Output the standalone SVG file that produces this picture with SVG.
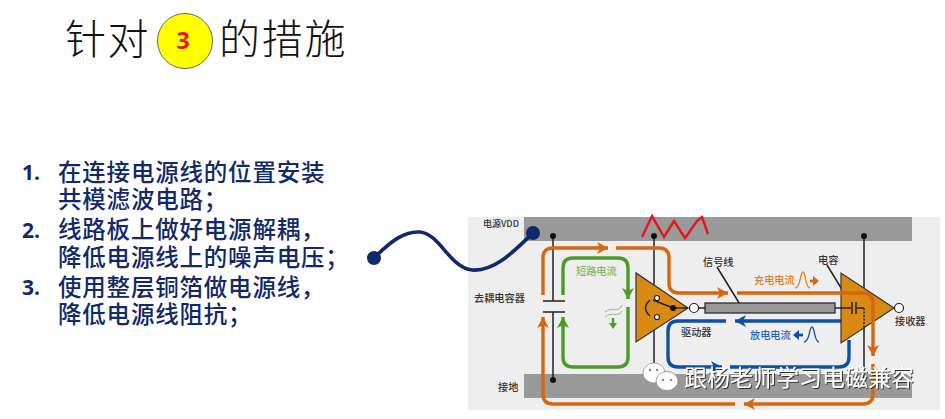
<svg xmlns="http://www.w3.org/2000/svg" width="945" height="419" viewBox="0 0 945 419">
<style>
text{font-family:"Noto Sans CJK SC","Liberation Sans",sans-serif}
.title{font-size:41px;font-weight:300;fill:#111}
.body{font-size:23.5px;font-weight:500;fill:#10296b;letter-spacing:.8px}
.num{font-family:"Open Sans","Liberation Sans",sans-serif;font-size:21px;font-weight:700;fill:#10296b}
.lab{font-size:10.2px;fill:#333;font-weight:500}
.w{fill:none;stroke-width:3.4;stroke-linecap:butt;stroke-linejoin:round}
.o{stroke:#d9650c}.g{stroke:#4c9a28}.b{stroke:#0c4fa8}
.k{stroke:#222;stroke-width:1.5;fill:none}
.tri{fill:#d98a14;stroke:#333;stroke-width:1.2}
.bar{fill:#999}
.pin{fill:#fff;stroke:#222;stroke-width:1.2}
.wm{font-size:23px;fill:#fff;filter:url(#sh)}
</style>
<defs>
<filter id="sh" x="-10%" y="-20%" width="120%" height="150%"><feDropShadow dx="1" dy="1" stdDeviation=".6" flood-color="#333"/></filter>
<marker id="ao" markerUnits="userSpaceOnUse" markerWidth="14" markerHeight="14" refX="12" refY="7" orient="auto"><path d="M1,1 L12,7 L1,13 L4,7z" fill="#d9650c"/></marker>
<marker id="ag" markerUnits="userSpaceOnUse" markerWidth="14" markerHeight="14" refX="12" refY="7" orient="auto"><path d="M1,1 L12,7 L1,13 L4,7z" fill="#4c9a28"/></marker>
<marker id="ab" markerUnits="userSpaceOnUse" markerWidth="14" markerHeight="14" refX="12" refY="7" orient="auto"><path d="M1,1 L12,7 L1,13 L4,7z" fill="#0c4fa8"/></marker>
</defs>
<rect width="945" height="419" fill="#fff"/>

<g id="title">
<text class="title" x="65" y="54" letter-spacing="1.5">针对</text>
<circle cx="185" cy="41" r="27.5" fill="#ffff00" stroke="#666" stroke-width="1"/>
<text x="183" y="49" text-anchor="middle" font-size="23" font-weight="700" fill="#f01010" style="font-family:'Open Sans','Liberation Sans',sans-serif">3</text>
<text class="title" x="219" y="54" letter-spacing="1.8">的措施</text>
</g>

<g id="list">
<text class="num" x="22" y="180">1.</text>
<text class="body"><tspan x="58" y="181">在连接电源线的位置安装</tspan><tspan x="58" y="208">共模滤波电路；</tspan></text>
<text class="num" x="22" y="238">2.</text>
<text class="body"><tspan x="58" y="238">线路板上做好电源解耦，</tspan><tspan x="58" y="266">降低电源线上的噪声电压；</tspan></text>
<text class="num" x="22" y="295">3.</text>
<text class="body"><tspan x="58" y="296">使用整层铜箔做电源线，</tspan><tspan x="58" y="323">降低电源线阻抗；</tspan></text>
</g>

<g id="circuit-panel">
<rect x="468" y="217" width="472" height="193" fill="#eeeeee"/>
<rect class="bar" x="524" y="217" width="388" height="24"/>
<rect class="bar" x="524" y="374" width="388" height="24"/>
<text class="lab" x="483" y="227" style="font-size:9px">电源VDD</text>
<text class="lab" x="474" y="302">去耦电容器</text>
<text class="lab" x="498" y="391">接地</text>
</g>

<g id="connectors">
<path class="k" d="M553,236V301M553,312V380M654,236V380M864,236V380"/>
<path d="M543,301H565M543,312H565" stroke="#222" stroke-width="1.5" fill="none"/>
<path class="k" d="M717,267L741,306M827,265L846,296"/>
<path class="w o" marker-end="url(#ao)" d="M543,295V258Q543,248 553,248H608"/>
<path class="w o" marker-end="url(#ao)" d="M616,248H659Q669,248 669,258V283Q669,293 679,293H728"/>
<path class="w g" marker-end="url(#ag)" d="M563,295V268Q563,258 573,258H618Q628,258 628,268V299"/>
<path class="w g" marker-end="url(#ag)" d="M628,307V357Q628,367 618,367H573Q563,367 563,357V317"/>
<path class="w b" marker-end="url(#ab)" d="M726,321H678Q668,321 668,331V357Q668,367 678,367H722"/>
<path class="w b" marker-end="url(#ab)" d="M841,321H735"/>
<path class="w b" d="M730,367H839Q849,367 849,357V340"/>
<path class="w o" marker-end="url(#ao)" d="M873,364V394Q873,404 863,404H744"/>
<path class="w o" marker-end="url(#ao)" d="M735,404H553Q543,404 543,394V317"/>
</g>

<g id="noise">
<path d="M642,237L652,216L664,237L674,221L685,238L697,221L702,217L708,234" fill="none" stroke="#e8141c" stroke-width="2.4"/>
</g>

<g id="driver">
<polygon class="tri" points="636,273 636,342 688,308"/>
<path class="k" d="M653,300L673,308H688"/>
<circle cx="673" cy="308" r="3" fill="#111"/>
<circle class="pin" cx="657" cy="298" r="2.5"/>
<circle class="pin" cx="657" cy="317" r="2.5"/>
<path class="k" d="M650,300Q641,308 650,316"/>
<circle class="pin" cx="694" cy="308" r="4.5"/>
<path class="k" d="M698,308H705"/>
<text class="lab" x="681" y="336">驱动器</text>
</g>

<g id="signal-line">
<rect x="705" y="303" width="130" height="10" fill="#999" stroke="#222" stroke-width="1.2"/>
<text class="lab" x="703" y="266">信号线</text>
</g>

<g id="receiver">
<polygon class="tri" points="841,273 841,343 894,308"/>
<path class="k" d="M835,308H851M857,308H864"/>
<path d="M852,302V314M856,302V314" stroke="#222" stroke-width="1.5"/>
<path d="M864,308V330" stroke="#222" stroke-width="1.5" stroke-dasharray="2 1.5"/>
<path class="w o" marker-end="url(#ao)" d="M737,293H863Q873,293 873,303V356"/>
<circle class="pin" cx="899" cy="308" r="4.5"/>
<text class="lab" x="818" y="264">电容</text>
<text class="lab" x="895" y="325">接收器</text>
</g>

<g id="dots">
<circle cx="553" cy="236" r="3" fill="#111"/>
<circle cx="654" cy="236" r="3" fill="#111"/>
<circle cx="864" cy="236" r="3" fill="#111"/>
<circle cx="553" cy="380" r="3" fill="#111"/>
</g>

<g id="current-labels">
<text class="lab" x="576" y="275" style="fill:#7cb860">短路电流</text>
<path d="M605,312C612,306 618,314 622,305M605,317C612,311 618,318 622,311" fill="none" stroke="#8fb87c" stroke-width="1"/>
<path d="M613,318V324" stroke="#4c9a28" stroke-width="2.4"/>
<path d="M609,323H617L613,329z" fill="#4c9a28"/>
<text class="lab" x="754" y="284" style="fill:#d9801a">充电电流</text>
<path d="M795,288C801,288 800,272 803,272C806,272 805,288 810,288" fill="none" stroke="#d9801a" stroke-width="1.3"/>
<path d="M810,281H814" stroke="#d9650c" stroke-width="2.8"/>
<path d="M813,276L819,281L813,286z" fill="#d9650c"/>
<text class="lab" x="750" y="339" style="fill:#2a64b8">放电电流</text>
<path d="M798,335H803" stroke="#0c4fa8" stroke-width="2.8"/>
<path d="M799,330L793,335L799,340z" fill="#0c4fa8"/>
<path d="M804,342C810,342 809,327 812,327C815,327 814,342 819,342" fill="none" stroke="#0c4fa8" stroke-width="1.3"/>
</g>

<g id="probe">
<path d="M374,258C392,240 405,231 420,232C440,234 450,268 472,270C495,272 515,250 533,233" fill="none" stroke="#10296b" stroke-width="3.6"/>
<circle cx="374" cy="258" r="7" fill="#10296b"/>
<circle cx="533" cy="233" r="7" fill="#10296b"/>
</g>

<g id="watermark">
<ellipse cx="654" cy="373" rx="11" ry="10" fill="#fff" stroke="#999" stroke-width=".8"/>
<ellipse cx="667" cy="381" rx="11" ry="9.5" fill="#fff" stroke="#888" stroke-width=".8"/>
<circle cx="650" cy="370" r="1.2" fill="#888"/><circle cx="657" cy="370" r="1.2" fill="#888"/>
<circle cx="663" cy="380" r="1.2" fill="#888"/><circle cx="671" cy="380" r="1.2" fill="#888"/>
<text class="wm" x="684" y="386">跟杨老师学习电磁兼容</text>
</g>
</svg>
